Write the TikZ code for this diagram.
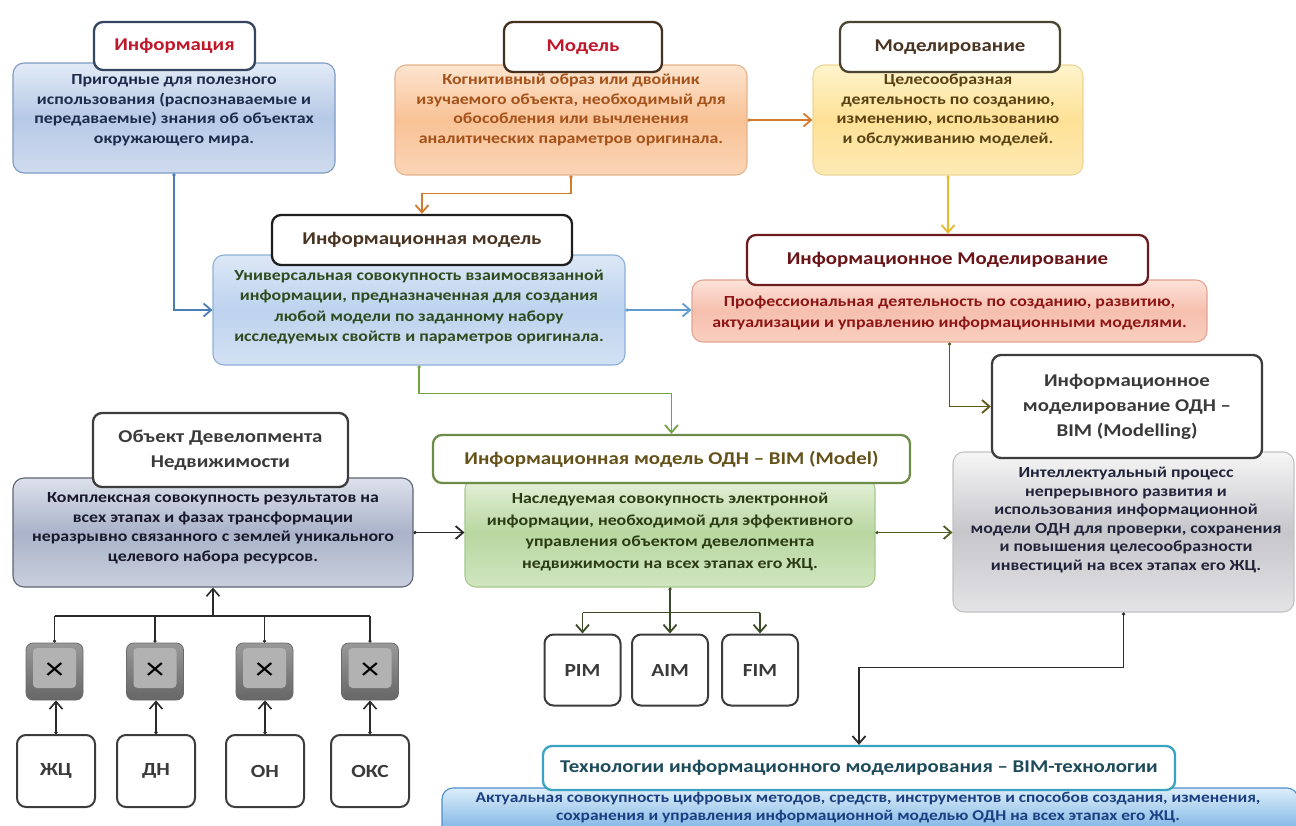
\documentclass[tikz,border=0pt]{standalone}
\usepackage{fontspec}
\newfontfamily\dgfont{Carlito}[FakeStretch=1.16]
\usetikzlibrary{arrows.meta,calc}

% fills, borders and text colours of the blocks
\definecolor{infoTop}{HTML}{E2EAF6}\definecolor{infoMid}{HTML}{B6C9E6}\definecolor{infoBot}{HTML}{CFDBEE}
\definecolor{infoDraw}{HTML}{7D9BC5}\definecolor{infoText}{HTML}{1D2B4A}\definecolor{infoFrame}{HTML}{34465F}
\definecolor{modTop}{HTML}{FDE4CE}\definecolor{modMid}{HTML}{F8C296}\definecolor{modBot}{HTML}{FBD5B6}
\definecolor{modDraw}{HTML}{E4B48E}\definecolor{modText}{HTML}{A4521A}\definecolor{modFrame}{HTML}{43301E}
\definecolor{mdlTop}{HTML}{FFF4CC}\definecolor{mdlMid}{HTML}{FDE196}\definecolor{mdlBot}{HTML}{FDEAB5}
\definecolor{mdlDraw}{HTML}{ECD597}\definecolor{mdlText}{HTML}{5B4214}\definecolor{mdlFrame}{HTML}{4A4530}
\definecolor{imTop}{HTML}{DCE8F6}\definecolor{imMid}{HTML}{BDD3EE}\definecolor{imBot}{HTML}{D3E1F3}
\definecolor{imDraw}{HTML}{8DB0D8}\definecolor{imText}{HTML}{2E4A1F}\definecolor{imFrame}{HTML}{1E1E1E}
\definecolor{imdTop}{HTML}{FDE2D8}\definecolor{imdMid}{HTML}{F6BFAE}\definecolor{imdBot}{HTML}{F9CFC0}
\definecolor{imdDraw}{HTML}{E2A593}\definecolor{imdText}{HTML}{8E1515}\definecolor{imdFrame}{HTML}{6B1A1E}
\definecolor{odnTop}{HTML}{F6F6F6}\definecolor{odnMid}{HTML}{C6C6CB}\definecolor{odnBot}{HTML}{E4E4E6}
\definecolor{odnDraw}{HTML}{C2C2C2}\definecolor{odnText}{HTML}{22223A}\definecolor{greyFrame}{HTML}{3C3C3C}
\definecolor{objTop}{HTML}{DDE1EC}\definecolor{objMid}{HTML}{AAB3C9}\definecolor{objBot}{HTML}{C9CFDD}
\definecolor{objDraw}{HTML}{5D6474}\definecolor{objText}{HTML}{17182A}
\definecolor{bimTop}{HTML}{E6F1DA}\definecolor{bimMid}{HTML}{B9D7A1}\definecolor{bimBot}{HTML}{D0E6BF}
\definecolor{bimDraw}{HTML}{A6C88C}\definecolor{bimText}{HTML}{2B3B13}\definecolor{bimFrame}{HTML}{6D8C4A}
\definecolor{bimTitle}{HTML}{64521A}
\definecolor{tecTop}{HTML}{DCEEFA}\definecolor{tecBot}{HTML}{6FAAE0}
\definecolor{tecDraw}{HTML}{4E8FCB}\definecolor{tecText}{HTML}{1B3F80}\definecolor{tecFrame}{HTML}{3AA2C2}
\definecolor{tecTitle}{HTML}{1D4B5C}
\definecolor{redTitle}{HTML}{C0182A}\definecolor{brownTitle}{HTML}{4A3422}
\definecolor{darkRedTitle}{HTML}{6A1418}\definecolor{greyTitle}{HTML}{3A3A3A}
% connector colours
\definecolor{lkInfo}{HTML}{4A7CB5}\definecolor{lkMod}{HTML}{D47A2C}\definecolor{lkMdl}{HTML}{E6BB2C}
\definecolor{lkIm}{HTML}{5E9BD0}\definecolor{lkImBim}{HTML}{73A444}\definecolor{lkImd}{HTML}{5C5A16}
\definecolor{lkDark}{HTML}{2A2A2A}\definecolor{lkBim}{HTML}{4D5C22}\definecolor{lkBimDown}{HTML}{3C4A28}

\tikzset{
  box/.style={draw, rounded corners=11pt, inner sep=0pt, line width=1.1pt},
  ttl/.style={draw, fill=white, rounded corners=9pt, line width=2.3pt, inner sep=0pt,
    align=center, font=\dgfont\bfseries\fontsize{18}{25}\selectfont},
  txt/.style={align=center, inner sep=0pt, font=\dgfont\bfseries\fontsize{15.4}{19.5}\selectfont},
  tip/.style={-{Straight Barb[length=7.5pt,width=13pt]}},
  lnk/.style={line width=1.8pt, {Circle[length=3pt]}-{Straight Barb[length=7.5pt,width=13pt]}},
  tag/.style={draw=greyFrame, fill=white, rounded corners=9pt, line width=2pt, inner sep=0pt,
    minimum width=76pt, minimum height=71pt, text=greyTitle,
    font=\dgfont\bfseries\fontsize{18.5}{20}\selectfont},
  xkey/.style={draw=black!58, line width=0.8pt, rounded corners=7pt, minimum size=57pt, inner sep=0pt,
    top color=black!40, bottom color=black!60,
    path picture={\fill[black!30, rounded corners=4pt]
      ($(path picture bounding box.north west)+(7pt,-5pt)$) rectangle
      ($(path picture bounding box.south east)+(-7pt,12pt)$);},
    font=\dgfont\fontsize{32}{32}\selectfont},
}

\begin{document}
\begin{tikzpicture}[x=1pt,y=-1pt]
\useasboundingbox (0,0) rectangle (1296,825);

% ---------- bodies ----------
\node[box, draw=infoDraw, top color=infoTop, bottom color=infoBot, middle color=infoMid,
  minimum width=322pt, minimum height=110pt] (infoB) at (174,118) {};
\node[txt, text=infoText] (infoTx) at (174,110)
  {Пригодные для полезного\\использования (распознаваемые и\\передаваемые) знания об объектах\\окружающего мира.};

\node[box, draw=modDraw, top color=modTop, bottom color=modBot, middle color=modMid,
  minimum width=352pt, minimum height=110pt] (modB) at (571,120) {};
\node[txt, text=modText] (modTx) at (571,110)
  {Когнитивный образ или двойник\\изучаемого объекта, необходимый для\\обособления или вычленения\\аналитических параметров оригинала.};

\node[box, draw=mdlDraw, top color=mdlTop, bottom color=mdlBot, middle color=mdlMid,
  minimum width=270pt, minimum height=110pt] (mdlB) at (948,120) {};
\node[txt, text=mdlText] (mdlTx) at (948,110)
  {Целесообразная\\деятельность по созданию,\\изменению, использованию\\и обслуживанию моделей.};

\node[box, draw=imDraw, top color=imTop, bottom color=imBot, middle color=imMid,
  minimum width=412pt, minimum height=110pt] (imB) at (419,310) {};
\node[txt, text=imText, font=\dgfont\bfseries\fontsize{15.4}{20.5}\selectfont] (imTx) at (419,307)
  {Универсальная совокупность взаимосвязанной\\информации, предназначенная для создания\\любой модели по заданному набору\\исследуемых свойств и параметров оригинала.};

\node[box, draw=imdDraw, top color=imdTop, bottom color=imdBot, middle color=imdMid,
  minimum width=515pt, minimum height=62pt] (imdB) at (949.5,311) {};
\node[txt, text=imdText, font=\dgfont\bfseries\fontsize{15.4}{21}\selectfont] (imdTx) at (949.5,313)
  {Профессиональная деятельность по созданию, развитию,\\актуализации и управлению информационными моделями.};

\node[box, draw=odnDraw, top color=odnTop, bottom color=odnBot, middle color=odnMid,
  minimum width=341pt, minimum height=160pt] (odnB) at (1123.5,532) {};
\node[txt, text=odnText, font=\dgfont\bfseries\fontsize{15.4}{18.5}\selectfont] (odnTx) at (1126,520)
  {Интеллектуальный процесс\\непрерывного развития и\\использования информационной\\модели ОДН для проверки, сохранения\\и повышения целесообразности\\инвестиций на всех этапах его ЖЦ.};

\node[box, draw=objDraw, top color=objTop, bottom color=objBot, middle color=objMid,
  minimum width=400pt, minimum height=109pt] (objB) at (213,532.5) {};
\node[txt, text=objText] (objTx) at (213,528)
  {Комплексная совокупность результатов на\\всех этапах и фазах трансформации\\неразрывно связанного с землей уникального\\целевого набора ресурсов.};

\node[box, draw=bimDraw, top color=bimTop, bottom color=bimBot, middle color=bimMid,
  minimum width=410pt, minimum height=109pt] (bimB) at (670,532.5) {};
\node[txt, text=bimText, font=\dgfont\bfseries\fontsize{15.4}{21.5}\selectfont] (bimTx) at (670,532)
  {Наследуемая совокупность электронной\\информации, необходимой для эффективного\\управления объектом девелопмента\\недвижимости на всех этапах его ЖЦ.};

\node[box, draw=tecDraw, top color=tecTop, bottom color=tecBot,
  minimum width=856pt, minimum height=50pt] (tecB) at (870,813) {};
\node[txt, text=tecText, font=\dgfont\bfseries\fontsize{15}{17.5}\selectfont] (tecTx) at (868,807.5)
  {Актуальная совокупность цифровых методов, средств, инструментов и способов создания, изменения,\\сохранения и управления информационной моделью ОДН на всех этапах его ЖЦ.};

% ---------- titles ----------
\node[ttl, draw=infoFrame, text=redTitle, minimum width=161pt, minimum height=48pt] (infoT) at (174.5,46) {Информация};
\node[ttl, draw=modFrame, text=redTitle, minimum width=158pt, minimum height=50pt] (modT) at (583,47) {Модель};
\node[ttl, draw=mdlFrame, text=brownTitle, minimum width=220pt, minimum height=50pt] (mdlT) at (950,47) {Моделирование};
\node[ttl, draw=imFrame, text=brownTitle, minimum width=300pt, minimum height=50pt] (imT) at (422,240) {Информационная модель};
\node[ttl, draw=imdFrame, text=darkRedTitle, minimum width=401pt, minimum height=50pt] (imdT) at (947.5,260) {Информационное Моделирование};
\node[ttl, draw=greyFrame, text=greyTitle, minimum width=270pt, minimum height=103pt] (odnT) at (1127,406.5)
  {Информационное\\моделирование ОДН –\\BIM (Modelling)};
\node[ttl, draw=greyFrame, text=greyTitle, minimum width=255pt, minimum height=74pt] (objT) at (220.5,450)
  {Объект Девелопмента\\Недвижимости};
\node[ttl, draw=bimFrame, text=bimTitle, minimum width=477pt, minimum height=48pt] (bimT) at (671.5,459)
  {Информационная модель ОДН – BIM (Model)};
\node[ttl, draw=tecFrame, text=tecTitle, minimum width=632pt, minimum height=44pt] (tecT) at (859,768)
  {Технологии информационного моделирования – BIM-технологии};

% ---------- model kinds ----------
\node[tag] (pim) at (582.5,670) {PIM};
\node[tag] (aim) at (670,670) {AIM};
\node[tag] (fim) at (760,670) {FIM};

% ---------- multipliers and their factors ----------
\node[xkey] (x1) at (54.5,671.5) {×};
\node[xkey] (x2) at (155,671.5) {×};
\node[xkey] (x3) at (264.5,671.5) {×};
\node[xkey] (x4) at (370,671.5) {×};
\node[tag, minimum width=78pt, minimum height=72pt] (f1) at (56,771) {ЖЦ};
\node[tag, minimum width=78pt, minimum height=72pt] (f2) at (156,771) {ДН};
\node[tag, minimum width=78pt, minimum height=72pt] (f3) at (265,771) {ОН};
\node[tag, minimum width=78pt, minimum height=72pt] (f4) at (370,771) {ОКС};

% ---------- connectors ----------
\draw[lnk, lkInfo] (infoB.south) |- (imB.west);
\draw[lnk, lkMod] (modB.south) -- ++(0,18) -| (imT.north);
\draw[lnk, lkMod] (modB.east) -- (modB.east -| mdlB.west);
\draw[lnk, lkMdl] (mdlB.south) -- (mdlB.south |- imdT.north);
\draw[lnk, lkIm] (imB.east) -- (imB.east -| imdB.west);
\draw[lnk, lkImBim] (imB.south) -- ++(0,28) -| (bimT.north);
\draw[lnk, lkImd] (imdB.south) |- (odnT.west);
\draw[lnk, lkDark] (objB.east) -- (objB.east -| bimB.west);
\draw[lnk, lkBim] (bimB.east) -- (bimB.east -| odnB.west);
\draw[lnk, lkDark] (odnB.south) -- ++(0,55) -| (tecT.north);

% one source, three kinds of model
\coordinate (split) at ($(bimB.south)+(0,25)$);
\draw[lkBimDown, line width=1.8pt, {Circle[length=3pt]}-] (bimB.south) -- (split);
\draw[lkBimDown, line width=1.8pt] (pim.north |- split) -- (fim.north |- split);
\foreach \m in {pim,aim,fim}
  \draw[lkBimDown, line width=1.8pt, tip] (\m.north |- split) -- (\m.north);

% four products feeding the object
\coordinate (bus) at (213,616);
\draw[lkDark, line width=1.6pt] (x1.north |- bus) -- (x4.north |- bus);
\draw[lkDark, line width=1.6pt, tip] (bus) -- (objB.south);
\foreach \k in {x1,x2,x3,x4}
  \draw[lkDark, line width=1.6pt, {Circle[length=3pt]}-] (\k.north) -- (\k.north |- bus);
\foreach \f/\k in {f1/x1,f2/x2,f3/x3,f4/x4}
  \draw[lnk, lkDark, line width=1.6pt] (\f.north) -- (\f.north |- \k.south);
\end{tikzpicture}
\end{document}
